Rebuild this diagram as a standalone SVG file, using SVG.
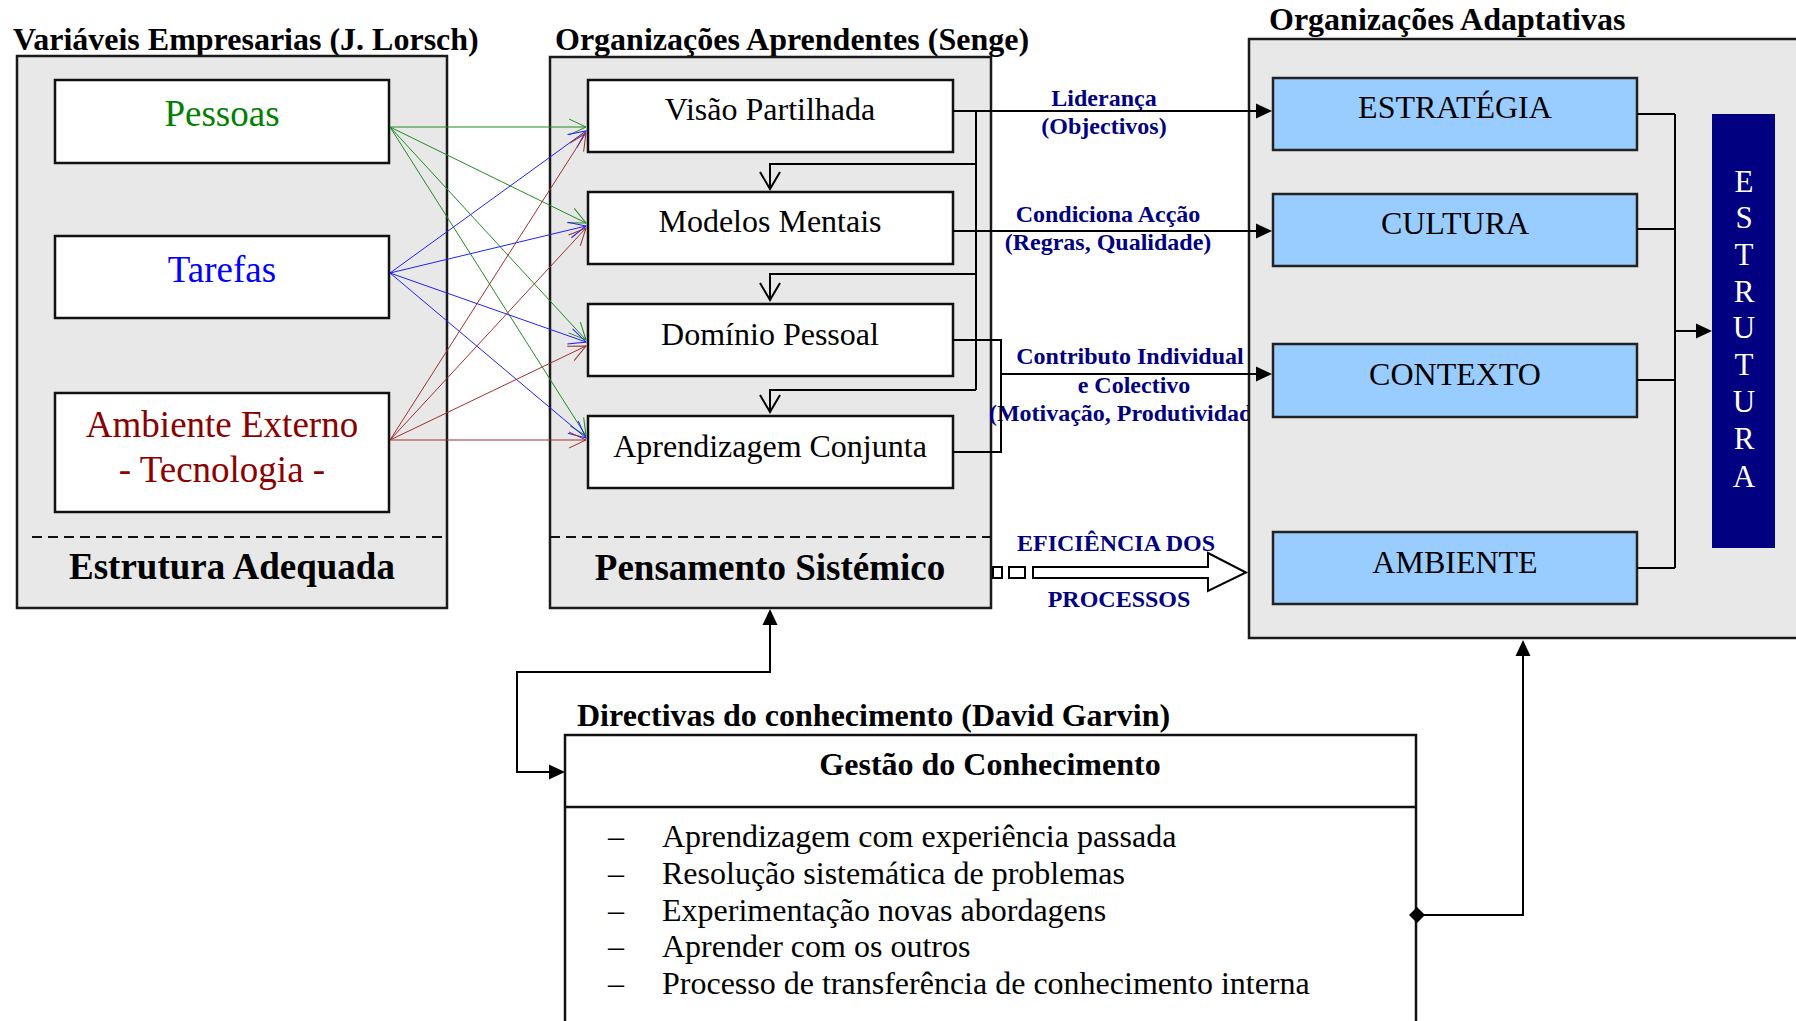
<svg xmlns="http://www.w3.org/2000/svg" width="1796" height="1021" viewBox="0 0 1796 1021">
<style>
text{font-family:"Liberation Serif","Times New Roman",serif}
.title{font-size:32px;font-weight:bold;fill:#000}
.panel{fill:#e8e8e8;stroke:#1a1a1a;stroke-width:2.5}
.wbox{fill:#fff;stroke:#111;stroke-width:2.5}
.bbox{fill:#99ccff;stroke:#222;stroke-width:2.5}
.lt{font-size:37px;text-anchor:middle}
.mt{font-size:32px;text-anchor:middle;fill:#000}
.big{font-size:37px;font-weight:bold;text-anchor:middle;fill:#000}
.lab{font-size:24px;font-weight:bold;fill:#000080;text-anchor:middle}
.est{font-size:31px;fill:#fff;text-anchor:middle}
.li{font-size:32px;fill:#000}
.dash{stroke:#111;stroke-width:2;stroke-dasharray:10 6;fill:none}
.c{fill:none;stroke:#000;stroke-width:2}
.g{fill:none;stroke:#228b22;stroke-width:1}
.b{fill:none;stroke:#2020ff;stroke-width:1}
.r{fill:none;stroke:#a03030;stroke-width:1}
</style>
<defs>
<marker id="aG" markerUnits="userSpaceOnUse" viewBox="-20 -12 22 24" refX="0" refY="0" markerWidth="22" markerHeight="24" orient="auto"><path d="M-17,-8 L0,0 L-17,8" fill="none" stroke="#228b22" stroke-width="1"/></marker>
<marker id="aB" markerUnits="userSpaceOnUse" viewBox="-20 -12 22 24" refX="0" refY="0" markerWidth="22" markerHeight="24" orient="auto"><path d="M-17,-8 L0,0 L-17,8" fill="none" stroke="#2020ff" stroke-width="1"/></marker>
<marker id="aR" markerUnits="userSpaceOnUse" viewBox="-20 -12 22 24" refX="0" refY="0" markerWidth="22" markerHeight="24" orient="auto"><path d="M-17,-8 L0,0 L-17,8" fill="none" stroke="#a03030" stroke-width="1"/></marker>
<marker id="aO" markerUnits="userSpaceOnUse" viewBox="-20 -12 22 24" refX="0" refY="0" markerWidth="22" markerHeight="24" orient="auto"><path d="M-17,-10 L0,0 L-17,10" fill="none" stroke="#000" stroke-width="2"/></marker>
<marker id="aF" markerUnits="userSpaceOnUse" viewBox="-18 -9 22 18" refX="-4" refY="0" markerWidth="22" markerHeight="18" orient="auto-start-reverse"><path d="M-16,-7.5 L0,0 L-16,7.5 Z" fill="#000"/></marker>
</defs>

<!-- Left panel -->
<g id="panel-lorsch">
<text class="title" x="13" y="50">Variáveis Empresarias (J. Lorsch)</text>
<rect class="panel" x="17" y="56" width="430" height="552"/>
<line class="dash" x1="32" y1="537" x2="447" y2="537"/>
<text class="big" x="232" y="579">Estrutura Adequada</text>
</g>
<g id="node-pessoas"><rect class="wbox" x="55" y="80" width="334" height="83"/><text class="lt" x="222" y="126" fill="#008000">Pessoas</text></g>
<g id="node-tarefas"><rect class="wbox" x="55" y="236" width="334" height="82"/><text class="lt" x="222" y="282" fill="#0000ff">Tarefas</text></g>
<g id="node-ambiente-externo"><rect class="wbox" x="55" y="393" width="334" height="119"/><text class="lt" x="222" y="437" fill="#8b0000">Ambiente Externo</text><text class="lt" x="222" y="482" fill="#8b0000">- Tecnologia -</text></g>

<!-- Middle panel -->
<g id="panel-senge">
<text class="title" x="555" y="50">Organizações Aprendentes (Senge)</text>
<rect class="panel" x="550" y="57" width="441" height="551"/>
<line class="dash" x1="550" y1="537" x2="991" y2="537"/>
<text class="big" x="770" y="580">Pensamento Sistémico</text>
</g>
<g id="node-visao"><rect class="wbox" x="588" y="80" width="365" height="72"/><text class="mt" x="770" y="120">Visão Partilhada</text></g>
<g id="node-modelos"><rect class="wbox" x="588" y="192" width="365" height="72"/><text class="mt" x="770" y="232">Modelos Mentais</text></g>
<g id="node-dominio"><rect class="wbox" x="588" y="304" width="365" height="72"/><text class="mt" x="770" y="345">Domínio Pessoal</text></g>
<g id="node-aprendizagem"><rect class="wbox" x="588" y="416" width="365" height="72"/><text class="mt" x="770" y="457">Aprendizagem Conjunta</text></g>

<!-- Connector labels (drawn before right panel, which covers the tail) -->
<g id="labels">
<text class="lab" x="1104" y="106">Liderança</text>
<text class="lab" x="1104" y="134">(Objectivos)</text>
<text class="lab" x="1108" y="222">Condiciona Acção</text>
<text class="lab" x="1108" y="250">(Regras, Qualidade)</text>
<text class="lab" x="1130" y="364">Contributo Individual</text>
<text class="lab" x="1134" y="393">e Colectivo</text>
<text class="lab" x="1130" y="421">(Motivação, Produtividade)</text>
<text class="lab" x="1116" y="551">EFICIÊNCIA DOS</text>
<text class="lab" x="1119" y="607">PROCESSOS</text>
</g>

<!-- Right panel -->
<g id="panel-adaptativas">
<text class="title" x="1269" y="30">Organizações Adaptativas</text>
<rect class="panel" x="1249" y="39" width="560" height="599"/>
</g>
<g id="node-estrategia"><rect class="bbox" x="1273" y="78" width="364" height="72"/><text class="mt" x="1455" y="118">ESTRATÉGIA</text></g>
<g id="node-cultura"><rect class="bbox" x="1273" y="194" width="364" height="72"/><text class="mt" x="1455" y="234">CULTURA</text></g>
<g id="node-contexto"><rect class="bbox" x="1273" y="344" width="364" height="73"/><text class="mt" x="1455" y="385">CONTEXTO</text></g>
<g id="node-ambiente"><rect class="bbox" x="1273" y="532" width="364" height="72"/><text class="mt" x="1455" y="573">AMBIENTE</text></g>
<g id="node-estrutura">
<rect x="1712" y="114" width="63" height="434" fill="#000080"/>
<text class="est" x="1744" y="192">E</text>
<text class="est" x="1744" y="228">S</text>
<text class="est" x="1744" y="265">T</text>
<text class="est" x="1744" y="302">R</text>
<text class="est" x="1744" y="338">U</text>
<text class="est" x="1744" y="375">T</text>
<text class="est" x="1744" y="412">U</text>
<text class="est" x="1744" y="449">R</text>
<text class="est" x="1744" y="487">A</text>
</g>

<!-- Bottom box -->
<g id="node-gestao">
<text class="title" x="577" y="726">Directivas do conhecimento (David Garvin)</text>
<rect x="565" y="735" width="851" height="300" fill="#fff" stroke="#111" stroke-width="2.5"/>
<line x1="565" y1="807" x2="1416" y2="807" stroke="#111" stroke-width="2.5"/>
<text x="990" y="775" font-size="32" font-weight="bold" text-anchor="middle">Gestão do Conhecimento</text>
<g class="li">
<text x="608" y="847">–</text><text x="662" y="847">Aprendizagem com experiência passada</text>
<text x="608" y="884">–</text><text x="662" y="884">Resolução sistemática de problemas</text>
<text x="608" y="921">–</text><text x="662" y="921">Experimentação novas abordagens</text>
<text x="608" y="957">–</text><text x="662" y="957">Aprender com os outros</text>
<text x="608" y="994">–</text><text x="662" y="994">Processo de transferência de conhecimento interna</text>
</g>
</g>

<!-- Connectors -->
<g id="connectors">
<path class="g" d="M390,127 L586,127" marker-end="url(#aG)"/>
<path class="g" d="M390,127 L586,223" marker-end="url(#aG)"/>
<path class="g" d="M390,127 L586,340" marker-end="url(#aG)"/>
<path class="g" d="M390,127 L586,436" marker-end="url(#aG)"/>
<path class="b" d="M390,273 L586,131" marker-end="url(#aB)"/>
<path class="b" d="M390,273 L586,226" marker-end="url(#aB)"/>
<path class="b" d="M390,273 L586,342" marker-end="url(#aB)"/>
<path class="b" d="M390,273 L586,438" marker-end="url(#aB)"/>
<path class="r" d="M390,440 L586,133" marker-end="url(#aR)"/>
<path class="r" d="M390,440 L586,228" marker-end="url(#aR)"/>
<path class="r" d="M390,440 L586,346" marker-end="url(#aR)"/>
<path class="r" d="M390,440 L586,440" marker-end="url(#aR)"/>

<path class="c" d="M953,111 H1268" marker-end="url(#aF)"/>
<path class="c" d="M976,111 V390"/>
<path class="c" d="M976,164 H770 V189" marker-end="url(#aO)"/>
<path class="c" d="M976,274 H770 V300" marker-end="url(#aO)"/>
<path class="c" d="M976,390 H770 V412" marker-end="url(#aO)"/>
<path class="c" d="M953,231 H1268" marker-end="url(#aF)"/>
<path class="c" d="M953,340 H1001 V452 H953"/>
<path class="c" d="M1001,374 H1268" marker-end="url(#aF)"/>

<path class="c" d="M1637,114 H1675 M1637,229 H1675 M1637,380 H1675 M1637,568 H1675 M1675,114 V568"/>
<path class="c" d="M1675,331 H1708" marker-end="url(#aF)"/>

<path class="c" d="M770,613 V672 H517 V772 H561" marker-start="url(#aF)" marker-end="url(#aF)"/>
<path class="c" d="M1417,915 H1523 V644" marker-end="url(#aF)"/>
<path d="M1417,907 L1425,915 L1417,923 L1409,915 Z" fill="#000"/>

<g id="block-arrow" fill="#fff" stroke="#000" stroke-width="2">
<rect x="993" y="567" width="9" height="11"/>
<rect x="1009" y="567" width="16" height="11"/>
<path d="M1033,567 H1208 V553 L1246,572.5 L1208,591 V578 H1033 Z"/>
</g>
</g>
</svg>
